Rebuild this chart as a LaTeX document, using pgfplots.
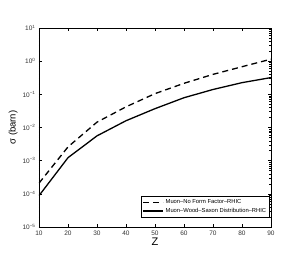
\documentclass[border=0pt]{standalone}
\usepackage{fontspec}
\setmainfont{Liberation Sans}
\usepackage{pgfplots}
\pgfplotsset{compat=1.18}
\begin{document}
\begin{tikzpicture}
\begin{semilogyaxis}[
  at={(0,0)}, anchor=south west,
  scale only axis, width=232pt, height=199pt,
  xmin=10, xmax=90, ymin=1e-5, ymax=10,
  xtick={10,20,...,90},
  ytick={1e-5,1e-4,1e-3,1e-2,1e-1,1,10},
  yticklabels={10\textsuperscript{−5},10\textsuperscript{−4},10\textsuperscript{−3},10\textsuperscript{−2},10\textsuperscript{−1},10\textsuperscript{0},10\textsuperscript{1}},
  /pgf/number format/assume math mode=true,
  tick label style={font=\fontsize{6.5}{7}\selectfont, text=black!80},
  tick align=inside, major tick length=3pt, minor tick length=1.5pt,
  axis line style={line width=0.6pt},
  every tick/.style={line width=0.4pt},
  xlabel={Z}, ylabel={σ (barn)},
  xlabel style={font=\fontsize{11}{12}\selectfont, yshift=4pt},
  ylabel style={font=\fontsize{9.5}{11}\selectfont, yshift=-2pt},
  legend style={font=\fontsize{5.8}{6.5}\selectfont, draw=black, line width=0.4pt, inner sep=1pt, row sep=-1pt, cells={anchor=west}, at={(0.993,0.05)}, anchor=south east},
  legend image code/.code={\draw[#1] (0pt,0pt) -- (20pt,0pt);},
]
\addplot[black, line width=1.3pt, dash pattern=on 6pt off 4pt] coordinates {
(10,2.1e-4) (20,2.6e-3) (30,1.45e-2) (40,4.2e-2) (50,0.105) (60,0.215) (70,0.40) (80,0.68) (90,1.15)};
\addlegendentry{Muon--No Form Factor--RHIC}
\addplot[black, line width=1.3pt] coordinates {
(10,8.8e-5) (20,1.23e-3) (30,5.6e-3) (40,1.6e-2) (50,3.7e-2) (60,7.9e-2) (70,0.14) (80,0.225) (90,0.32)};
\addlegendentry{Muon--Wood--Saxon Distribution--RHIC}
\end{semilogyaxis}
\useasboundingbox (-39pt,-28pt) rectangle (261pt,227pt);
\end{tikzpicture}
\end{document}
